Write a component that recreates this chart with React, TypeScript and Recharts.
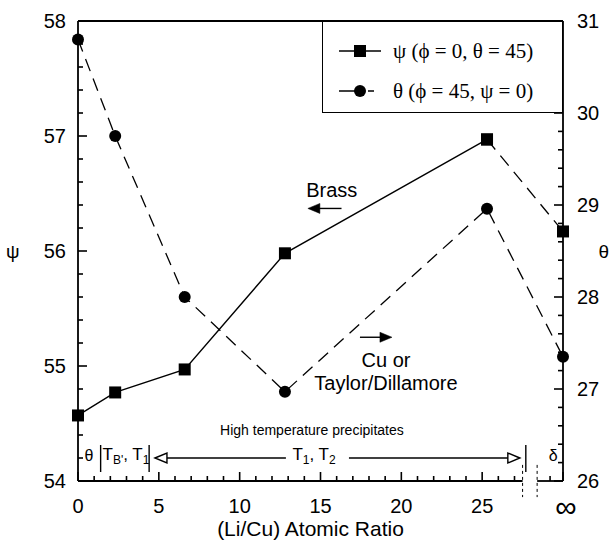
import React from 'react';
import { LineChart, Line, XAxis, YAxis, Legend, ReferenceLine, ReferenceDot } from 'recharts';

// (Li/Cu) atomic ratio of each sample; the last one is the "∞" column, drawn at the right edge
const ratio = [0, 2.3, 6.6, 12.8, 25.3, 30];
const psiDeg = [54.57, 54.77, 54.97, 55.98, 56.97, 56.17];
const thetaDeg = [30.8, 29.75, 28.0, 26.97, 28.96, 27.35];

const INF_AT = 30;
const xMajorTicks = [0, 5, 10, 15, 20, 25, 30];
const xMinorTicks = [1, 2, 3, 4, 6, 7, 8, 9, 11, 12, 13, 14, 16, 17, 18, 19, 21, 22, 23, 24, 26, 27, 29.2];
const psiMajorTicks = [54, 55, 56, 57, 58];
const psiMinorTicks = [54.2, 54.4, 54.6, 54.8, 55.2, 55.4, 55.6, 55.8, 56.2, 56.4, 56.6, 56.8, 57.2, 57.4, 57.6, 57.8];
const thetaMajorTicks = [26, 27, 28, 29, 30, 31];
const thetaMinorTicks = [26.2, 26.4, 26.6, 26.8, 27.2, 27.4, 27.6, 27.8, 28.2, 28.4, 28.6, 28.8, 29.2, 29.4, 29.6, 29.8, 30.2, 30.4, 30.6, 30.8];

const psiName = 'ψ (ϕ = 0, θ = 45)';
const thetaName = 'θ (ϕ = 45, ψ = 0)';

// axis break between 25 and ∞
const breakFrom = 27.5;
const breakTo = 28.4;

const ink = '#000';
const sans = '"Liberation Sans", Arial, sans-serif';
const serif = '"Liberation Serif", "Times New Roman", serif';

// psi is solid up to 25, dashed to the ∞ point
const rows = ratio.map((x, i) => ({
  x,
  psi: i < ratio.length - 1 ? psiDeg[i] : null,
  psiTail: i >= ratio.length - 2 ? psiDeg[i] : null,
  theta: thetaDeg[i],
}));

// inward tick lengths in pixels
const MAJOR = 9;
const MINOR = 5;
const TICK_W = 1.6;

function XTick({ x, y, payload }: any) {
  const v = payload.value;
  const major = xMajorTicks.includes(v);
  return (
    <g>
      <line x1={x} y1={y} x2={x} y2={y - (major ? MAJOR : MINOR)} stroke={ink} strokeWidth={TICK_W} />
      {major && v === INF_AT && <text x={x + 3} y={y + 36} textAnchor="middle" fontSize={30} fill={ink}>∞</text>}
      {major && v !== INF_AT && <text x={x} y={y + 32} textAnchor="middle" fontSize={20} fill={ink}>{v}</text>}
    </g>
  );
}

function PsiTick({ x, y, payload }: any) {
  const major = psiMajorTicks.includes(payload.value);
  return (
    <g>
      <line x1={x} y1={y} x2={x + (major ? MAJOR : MINOR)} y2={y} stroke={ink} strokeWidth={TICK_W} />
      {major && <text x={x - 12} y={y + 7} textAnchor="end" fontSize={20} fill={ink}>{payload.value}</text>}
    </g>
  );
}

function ThetaTick({ x, y, payload }: any) {
  const major = thetaMajorTicks.includes(payload.value);
  return (
    <g>
      <line x1={x} y1={y} x2={x - (major ? MAJOR : MINOR)} y2={y} stroke={ink} strokeWidth={TICK_W} />
      {major && <text x={x + 14} y={y + 7} textAnchor="start" fontSize={20} fill={ink}>{payload.value}</text>}
    </g>
  );
}

function SquareDot(p: any) {
  if (p.cx == null || p.cy == null || p.value == null) return <g />;
  return <rect x={p.cx - 6} y={p.cy - 6} width={12} height={12} fill={ink} />;
}

const note = (label: string, size = 20) => (p: any) => (
  <text x={p.cx} y={p.cy} textAnchor="middle" dominantBaseline="central" fontSize={size} fill={ink}>{label}</text>
);

// T with subscripts, e.g. T_B', T_1
const subPair = (a: string, b: string) => (p: any) => (
  <text x={p.cx} y={p.cy + 5} textAnchor="middle" fontSize={17} fill={ink}>
    T<tspan dy={4} fontSize={12}>{a}</tspan>
    <tspan dy={-4}>, T</tspan>
    <tspan dy={4} fontSize={12}>{b}</tspan>
  </text>
);

const head = (dir: 'left' | 'right', open: boolean) => (p: any) => {
  const s = dir === 'left' ? 1 : -1;
  const pts = `${p.cx},${p.cy} ${p.cx + s * 12},${p.cy - 5} ${p.cx + s * 12},${p.cy + 5}`;
  return <polygon points={pts} fill={open ? '#fff' : ink} stroke={ink} strokeWidth={open ? 1.4 : 0.5} />;
};

function LegendBox() {
  const rowsY = [29, 69];
  return (
    <div style={{ width: 241, height: 92, border: `1.5px solid ${ink}`, boxSizing: 'border-box', background: '#fff' }}>
      <svg width={238} height={89}>
        <line x1={16} x2={58} y1={rowsY[0]} y2={rowsY[0]} stroke={ink} strokeWidth={1.4} />
        <rect x={31} y={rowsY[0] - 6} width={12} height={12} fill={ink} />
        <text x={70} y={rowsY[0]} dominantBaseline="central" fontSize={21} fontFamily={serif} fill={ink}>{psiName}</text>
        <line x1={16} x2={60} y1={rowsY[1]} y2={rowsY[1]} stroke={ink} strokeWidth={1.4} strokeDasharray="21 8 6 20" />
        <circle cx={37} cy={rowsY[1]} r={6} fill={ink} />
        <text x={70} y={rowsY[1]} dominantBaseline="central" fontSize={21} fontFamily={serif} fill={ink}>{thetaName}</text>
      </svg>
    </div>
  );
}

const seg = (x1: number, y1: number, x2: number, y2: number, dash?: string, w = 1.4) => (
  <ReferenceLine
    yAxisId="psi"
    segment={[{ x: x1, y: y1 }, { x: x2, y: y2 }]}
    stroke={ink}
    strokeWidth={w}
    strokeDasharray={dash}
    ifOverflow="visible"
  />
);

const dot = (x: number, y: number, shape: any) => (
  <ReferenceDot yAxisId="psi" x={x} y={y} r={0} ifOverflow="visible" shape={shape} />
);

export default function App() {
  return (
    <div style={{ position: 'absolute', left: 0, top: 0, fontFamily: sans }}>
      <LineChart width={614} height={545} data={rows} margin={{ top: 21, right: 0, bottom: 0, left: 0 }}>
        <XAxis
          type="number"
          dataKey="x"
          domain={[0, INF_AT]}
          ticks={[...xMajorTicks, ...xMinorTicks].sort((a, b) => a - b)}
          interval={0}
          height={64}
          axisLine={false}
          tickLine={false}
          tickSize={0}
          tickMargin={0}
          tick={<XTick />}
          label={{ value: '(Li/Cu) Atomic Ratio', position: 'insideBottom', offset: 9, fontSize: 21, fill: ink, dx: -10 }}
        />
        <YAxis
          yAxisId="psi"
          domain={[54, 58]}
          ticks={[...psiMajorTicks, ...psiMinorTicks].sort((a, b) => a - b)}
          interval={0}
          width={78}
          axisLine={{ stroke: ink, strokeWidth: 1.8 }}
          tickLine={false}
          tickSize={0}
          tickMargin={0}
          tick={<PsiTick />}
          label={{ value: 'ψ', position: 'insideLeft', offset: 6, fontSize: 19, fill: ink }}
        />
        <YAxis
          yAxisId="theta"
          orientation="right"
          domain={[26, 31]}
          ticks={[...thetaMajorTicks, ...thetaMinorTicks].sort((a, b) => a - b)}
          interval={0}
          width={51}
          axisLine={{ stroke: ink, strokeWidth: 1.8 }}
          tickLine={false}
          tickSize={0}
          tickMargin={0}
          tick={<ThetaTick />}
          label={{ value: 'θ', position: 'insideRight', offset: 5, fontSize: 19, fill: ink }}
        />

        {/* frame: top edge and broken bottom axis */}
        {seg(0, 58, INF_AT, 58, undefined, 1.8)}
        {seg(0, 54, breakFrom, 54, undefined, 1.8)}
        {seg(breakTo, 54, INF_AT, 54, undefined, 1.8)}
        {seg(breakFrom, 54.14, breakFrom, 53.86, '3 3', 1)}
        {seg(breakTo, 54.14, breakTo, 53.86, '3 3', 1)}

        {/* precipitate regions along the bottom */}
        {dot(14.47, 54.44, note('High temperature precipitates', 14))}
        {dot(0.68, 54.226, note('θ', 16))}
        {seg(1.4, 54.078, 1.4, 54.313)}
        {dot(2.97, 54.226, subPair("B'", '1'))}
        {seg(4.4, 54.078, 4.4, 54.313)}
        {seg(5.5, 54.2, 12.86, 54.2)}
        {dot(4.76, 54.2, head('left', true))}
        {dot(14.6, 54.226, subPair('1', '2'))}
        {seg(16.76, 54.2, 26.6, 54.2)}
        {dot(27.33, 54.2, head('right', true))}
        {seg(27.7, 54.078, 27.7, 54.313)}
        {dot(29.4, 54.226, note('δ', 16))}

        {/* axis hints */}
        {dot(15.7, 56.53, note('Brass'))}
        {seg(14.9, 56.37, 16.3, 56.37)}
        {dot(14.22, 56.37, head('left', false))}
        {dot(19.05, 55.05, note('Cu or'))}
        {dot(19.05, 54.85, note('Taylor/Dillamore'))}
        {seg(17.44, 55.25, 18.8, 55.25)}
        {dot(19.42, 55.25, head('right', false))}

        <Line yAxisId="theta" dataKey="theta" stroke={ink} strokeWidth={1.3} strokeDasharray="13 8" dot={{ r: 6, fill: ink, stroke: ink, strokeWidth: 0 }} activeDot={false} isAnimationActive={false} />
        <Line yAxisId="psi" dataKey="psi" stroke={ink} strokeWidth={1.4} dot={(p: any) => <SquareDot key={p.index} {...p} />} activeDot={false} isAnimationActive={false} />
        <Line yAxisId="psi" dataKey="psiTail" stroke={ink} strokeWidth={1.3} strokeDasharray="13 8" dot={(p: any) => <SquareDot key={p.index} {...p} />} activeDot={false} isAnimationActive={false} />

        <Legend
          layout="vertical"
          align="center"
          verticalAlign="middle"
          wrapperStyle={{ left: 322, top: 21, width: 241, height: 92 }}
          content={() => <LegendBox />}
        />
      </LineChart>
    </div>
  );
}
